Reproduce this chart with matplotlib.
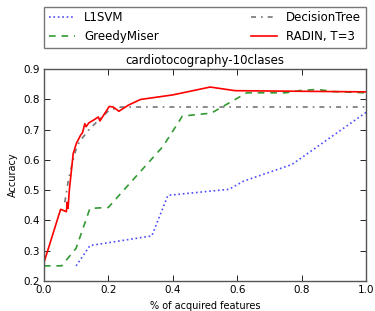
import matplotlib
matplotlib.use("Agg")
import matplotlib.pyplot as plt

l1svm_x = [0.10, 0.143, 0.335, 0.385, 0.45, 0.575, 0.62, 0.77, 1.0]
l1svm_y = [0.25, 0.317, 0.349, 0.483, 0.49, 0.503, 0.53, 0.585, 0.757]

greedy_x = [0.0, 0.055, 0.10, 0.143, 0.20, 0.267, 0.37, 0.43, 0.52, 0.63, 0.75, 0.80, 0.85, 0.90, 1.0]
greedy_y = [0.25, 0.25, 0.308, 0.44, 0.443, 0.523, 0.645, 0.745, 0.755, 0.822, 0.822, 0.83, 0.833, 0.826, 0.822]

dt_x = [0.065, 0.076, 0.084, 0.093, 0.10, 0.11, 0.143, 0.203, 0.24, 1.0]
dt_y = [0.46, 0.533, 0.57, 0.61, 0.635, 0.66, 0.704, 0.765, 0.775, 0.775]

radin_x = [0.0, 0.052, 0.07, 0.072, 0.075, 0.079, 0.085, 0.091, 0.101, 0.114, 0.12, 0.127, 0.131,
           0.14, 0.153, 0.169, 0.174, 0.203, 0.215, 0.233, 0.262, 0.30, 0.40, 0.516, 0.594, 0.80, 1.0]
radin_y = [0.26, 0.437, 0.429, 0.46, 0.44, 0.50, 0.56, 0.621, 0.655, 0.682, 0.69, 0.72, 0.71,
           0.723, 0.731, 0.742, 0.729, 0.777, 0.775, 0.761, 0.781, 0.80, 0.815, 0.841, 0.829, 0.827, 0.825]

xticks = [0.0, 0.2, 0.4, 0.6, 0.8, 1.0]
yticks = [0.2, 0.3, 0.4, 0.5, 0.6, 0.7, 0.8, 0.9]

fig = plt.figure(figsize=(3.75, 3.11), dpi=100)
ax = fig.add_axes([0.117, 0.0965, 0.859, 0.681])

ax.plot(l1svm_x, l1svm_y, ':', color='blue', lw=1.2, alpha=0.7, label='L1SVM')
ax.plot(greedy_x, greedy_y, color='green', lw=1.2, alpha=0.8, dashes=(4, 3.5), label='GreedyMiser')
ax.plot(dt_x, dt_y, color='#555555', lw=1.2, alpha=0.8, dashes=(3, 3, 1, 3), label='DecisionTree')
ax.plot(radin_x, radin_y, '-', color='red', lw=1.2, label='RADIN, T=3')

ax.set_xlim(0, 1)
ax.set_ylim(0.2, 0.9)
ax.set_xticks(xticks)
ax.set_yticks(yticks)
ax.set_xticklabels([f"{v:.1f}" for v in xticks])
ax.set_yticklabels([f"{v:.1f}" for v in yticks])
ax.tick_params(direction='in', top=True, right=True, labelsize=7.5, length=4, width=0.6, pad=3)
for s in ax.spines.values():
    s.set_linewidth(1.0)
    s.set_color('#555555')

ax.set_title('cardiotocography-10clases', fontsize=8.5, pad=4)
ax.set_xlabel('% of acquired features', fontsize=7)
ax.set_ylabel('Accuracy', fontsize=7)

leg = ax.legend(loc='lower left', bbox_to_anchor=(0, 1.1, 1, 0.19), mode='expand', ncol=2,
                borderaxespad=0, fontsize=8.5, handlelength=2.2, fancybox=False, frameon=True)
leg.get_frame().set_edgecolor('#555555')
leg.get_frame().set_linewidth(1.0)

fig.savefig('out.png', dpi=100)
